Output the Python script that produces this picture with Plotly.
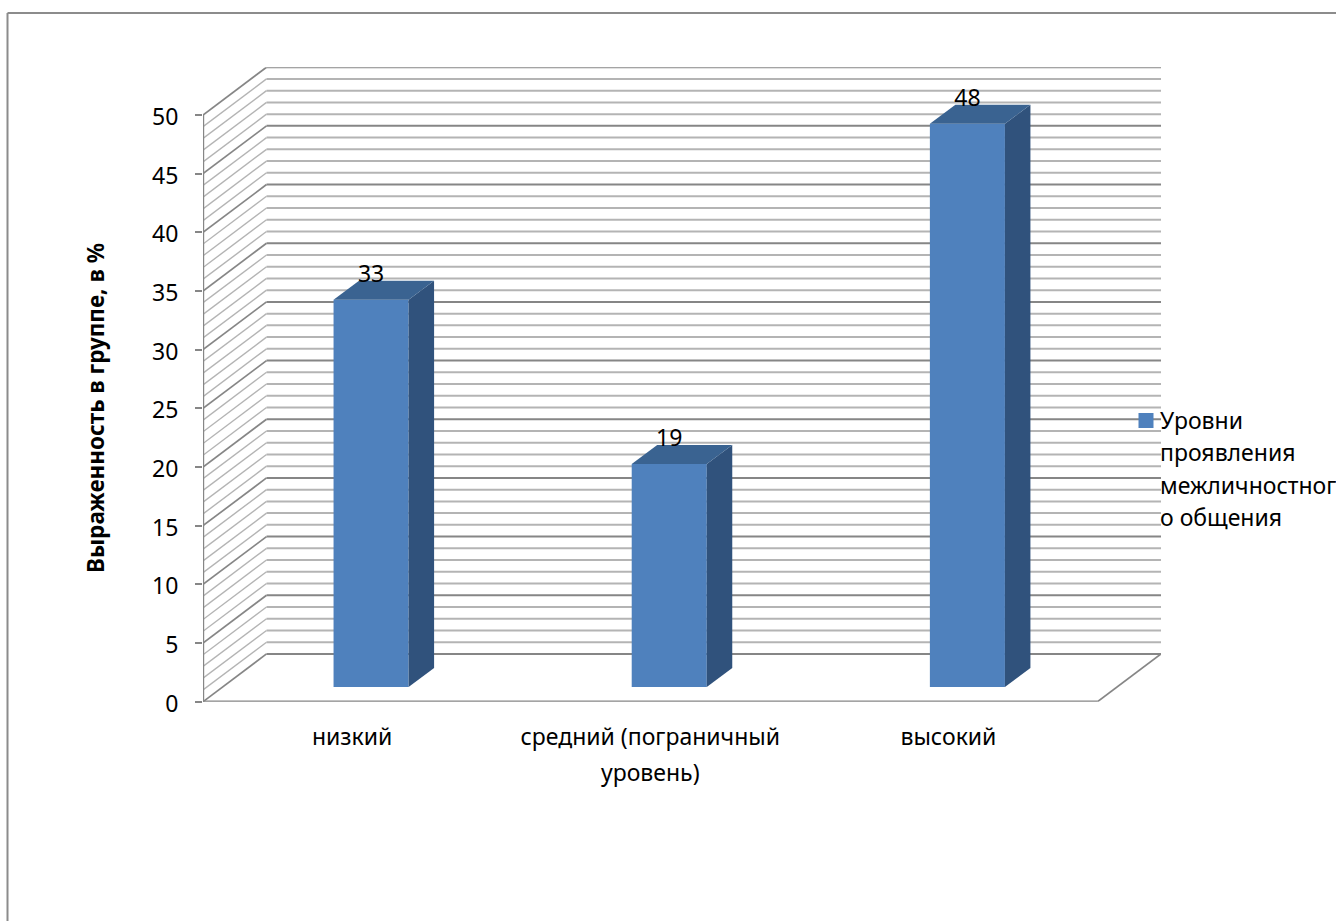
import plotly.graph_objects as go

# Chart data
CATEGORIES = ["низкий", "средний (пограничный", "высокий"]
CATEGORY_SECOND_LINE = "уровень)"
VALUES = [33, 19, 48]
Y_TICKS = [0, 5, 10, 15, 20, 25, 30, 35, 40, 45, 50]
Y_TITLE = "Выраженность в группе, в %"
LEGEND_LINES = ["Уровни", "проявления", "межличностног", "о общения"]

# Page and plot-box geometry, in pixels
W, H = 1336, 921
LEFT, RIGHT = 203, 1161
ZERO_PX, TOP_PX = 701.7, 67.2

# Pseudo-3D offsets, in data units
WALL_DX, WALL_DY = 0.213, 4.07      # depth of the whole box
BAR_OFF_X, BAR_OFF_Y = 0.0637, 1.25 # front face of a bar inside the box
BAR_DX, BAR_DY = 0.0855, 1.62       # depth of a bar
BAR_WIDTH = 0.2517

FONT = "Noto Sans"
FONT_SIZE = 23
TEXT = "#000000"
MAJOR = "#868686"
MINOR = "#b4b4b4"
FRONT = "#4f81bd"
SIDE = "#30527c"
TOP = "#3a6391"

X_MIN, X_MAX = -0.5, 2.5
Y_MAX = 50


def px(x):
    return x / W


def py(y):
    return 1 - y / H


fig = go.Figure()

# Wall and floor lines sit below the bars
shapes = []


def seg(x0, y0, x1, y1, color, width):
    shapes.append(dict(type="line", layer="below", xref="x", yref="y",
                       x0=x0, y0=y0, x1=x1, y1=y1,
                       line=dict(color=color, width=width)))


for v in range(0, Y_MAX + 1):
    major = v % 5 == 0
    color = MAJOR if major else MINOR
    seg(X_MIN, v, X_MIN + WALL_DX, v + WALL_DY, color, 1.7 if major else 1.4)
    seg(X_MIN + WALL_DX, v + WALL_DY, X_MAX + WALL_DX, v + WALL_DY, color, 2)

# Floor outline and the vertical value axis
seg(X_MIN, 0, X_MAX, 0, MAJOR, 2.2)
seg(X_MAX, 0, X_MAX + WALL_DX, WALL_DY, MAJOR, 1.7)
seg(X_MIN, 0, X_MIN, Y_MAX, MAJOR, 2.4)

# Outer frame of the chart area, running to the page's right and bottom edges
for x0, y0, x1, y1 in [(7.5, 13, W, 13), (7.5, 13, 7.5, H)]:
    shapes.append(dict(type="line", xref="paper", yref="paper",
                       x0=px(x0), y0=py(y0), x1=px(x1), y1=py(y1),
                       line=dict(color="#8c8c8c", width=2)))

# Legend swatch
shapes.append(dict(type="rect", xref="paper", yref="paper",
                   x0=px(1138.5), x1=px(1153.5), y0=py(413), y1=py(428),
                   fillcolor=FRONT, line=dict(width=0)))

positions = list(range(len(VALUES)))

# Front faces
fig.add_trace(go.Bar(
    x=[i + BAR_OFF_X for i in positions],
    y=VALUES,
    base=[BAR_OFF_Y] * len(VALUES),
    width=BAR_WIDTH,
    marker=dict(color=FRONT, line=dict(width=0)),
    showlegend=False,
    hoverinfo="skip",
))

# Side and top faces
for i, v in zip(positions, VALUES):
    x0 = i + BAR_OFF_X - BAR_WIDTH / 2
    x1 = i + BAR_OFF_X + BAR_WIDTH / 2
    y0 = BAR_OFF_Y
    y1 = BAR_OFF_Y + v
    fig.add_trace(go.Scatter(
        x=[x1, x1 + BAR_DX, x1 + BAR_DX, x1, x1],
        y=[y0, y0 + BAR_DY, y1 + BAR_DY, y1, y0],
        mode="lines", fill="toself", fillcolor=SIDE,
        line=dict(width=0), showlegend=False, hoverinfo="skip",
    ))
    fig.add_trace(go.Scatter(
        x=[x0, x0 + BAR_DX, x1 + BAR_DX, x1, x0],
        y=[y1, y1 + BAR_DY, y1 + BAR_DY, y1, y1],
        mode="lines", fill="toself", fillcolor=TOP,
        line=dict(width=0), showlegend=False, hoverinfo="skip",
    ))

# Value labels just above each bar
fig.add_trace(go.Scatter(
    x=[i + BAR_OFF_X for i in positions],
    y=[BAR_OFF_Y + v + 2.03 for v in VALUES],
    text=[str(v) for v in VALUES],
    mode="text", textposition="middle center",
    textfont=dict(family=FONT, size=FONT_SIZE, color=TEXT),
    showlegend=False, hoverinfo="skip",
))

annotations = [
    dict(text=Y_TITLE, xref="paper", yref="paper", x=px(95), y=py(408),
         textangle=-90, showarrow=False, xanchor="center", yanchor="middle",
         font=dict(family=FONT, size=22.5, color=TEXT, weight="bold")),
    dict(text=CATEGORY_SECOND_LINE, xref="x", yref="paper", x=1, y=py(772),
         showarrow=False, xanchor="center", yanchor="middle",
         font=dict(family=FONT, size=FONT_SIZE, color=TEXT)),
]
for line, y in zip(LEGEND_LINES, [419.5, 451.5, 484.5, 516.5]):
    annotations.append(dict(text=line, xref="paper", yref="paper", x=px(1160), y=py(y),
                            showarrow=False, xanchor="left", yanchor="middle",
                            xshift=-2,
                            font=dict(family=FONT, size=FONT_SIZE, color=TEXT)))

fig.update_layout(
    width=W, height=H,
    margin=dict(l=0, r=0, t=0, b=0),
    paper_bgcolor="white", plot_bgcolor="rgba(0,0,0,0)",
    shapes=shapes, annotations=annotations,
    showlegend=False,
    xaxis=dict(
        domain=[px(LEFT), px(RIGHT)],
        automargin=False,
        range=[X_MIN, X_MAX + WALL_DX],
        tickmode="array", tickvals=positions, ticktext=CATEGORIES,
        ticks="", showgrid=False, zeroline=False, showline=False,
        ticklabelstandoff=19,
        tickfont=dict(family=FONT, size=FONT_SIZE, color=TEXT),
    ),
    yaxis=dict(
        domain=[py(ZERO_PX), py(TOP_PX)],
        automargin=False,
        range=[0, Y_MAX + WALL_DY],
        tickmode="array", tickvals=Y_TICKS,
        ticks="outside", ticklen=7, tickwidth=2, tickcolor=MAJOR,
        showgrid=False, zeroline=False, showline=False,
        ticklabelstandoff=12, ticklabelshift=2,
        tickfont=dict(family=FONT, size=FONT_SIZE, color=TEXT),
    ),
)

fig.write_html("out.html")
